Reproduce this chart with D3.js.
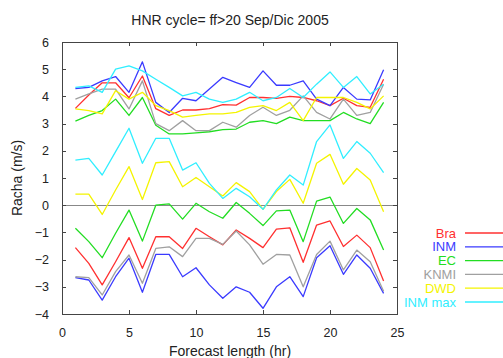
<!DOCTYPE html>
<meta charset="utf-8">
<style>
  body { margin: 0; background: #fff; font-family: 'Liberation Sans', Arial, sans-serif; }
  .axis text { font-size: 12.5px; fill: #222; }
  .axis path, .axis line { stroke: #444; stroke-width: 1; shape-rendering: crispEdges; }
  .lbl { font-size: 14px; fill: #222; }
  .leg { font-size: 13px; }
</style>
<body>
<div id="chart"></div>
<script src="https://d3js.org/d3.v7.min.js"></script>
<script>
// forecast hours
var hours = [1,2,3,4,5,6,7,8,9,10,11,12,13,14,15,16,17,18,19,20,21,22,23,24];

// upper (Hi) and lower (Lo) curves per model, m/s
var braHi  = [3.56,4.05,4.5,4.5,3.95,4.75,3.55,3.3,3.5,3.5,3.55,3.7,3.68,3.96,3.96,3.93,4.0,3.96,3.84,3.66,3.93,3.66,3.6,4.63];
var braLo  = [-1.56,-2.14,-2.93,-2.08,-1.19,-2.32,-1.16,-1.16,-1.59,-0.85,-1.16,-1.46,-0.91,-1.22,-1.56,-0.88,-0.83,-2.1,-0.73,-0.58,-1.52,-1.1,-1.56,-2.79];
var inmHi  = [4.29,4.33,4.57,4.73,4.15,5.27,3.78,3.41,3.93,3.84,4.27,4.7,4.51,4.33,4.94,4.41,4.41,4.57,3.9,3.66,4.33,3.9,3.87,4.98];
var inmLo  = [-2.66,-2.75,-3.49,-2.63,-1.95,-3.2,-1.81,-1.81,-2.63,-2.3,-2.93,-3.42,-3.0,-3.2,-3.79,-3.0,-2.63,-3.36,-1.93,-1.49,-2.54,-1.83,-2.32,-3.24];
var ecHi   = [3.09,3.3,3.48,3.9,3.3,3.96,2.94,2.62,2.62,2.66,2.7,2.78,2.8,3.05,3.11,3.0,3.24,3.11,3.11,3.11,3.41,3.17,3.0,3.78];
var ecLo   = [-0.85,-1.34,-1.93,-1.03,-0.18,-1.32,0.0,0.05,-0.51,0.07,-0.24,-0.48,0.1,-0.3,-0.75,-0.21,-0.18,-1.34,0.15,0.3,-0.67,-0.12,-0.54,-1.65];
var knmiHi = [3.9,4.09,4.27,4.27,3.54,4.57,3.0,2.74,3.11,2.74,2.74,3.05,2.87,3.3,3.6,3.3,3.49,4.02,3.41,3.17,3.9,3.3,3.41,4.45];
var knmiLo = [-2.63,-2.66,-3.3,-2.44,-1.83,-2.87,-1.59,-1.53,-1.89,-1.22,-1.22,-1.44,-0.95,-1.46,-2.17,-1.81,-1.83,-3.0,-1.81,-1.32,-2.38,-1.65,-2.08,-3.16];
var dwdHi  = [3.54,3.48,3.36,4.21,3.9,4.15,3.66,3.48,3.24,3.3,3.36,3.36,3.41,3.6,3.66,3.48,3.78,3.11,3.96,3.96,3.96,3.78,3.54,4.02];
var dwdLo  = [0.41,0.41,-0.34,0.56,1.42,0.21,1.56,1.6,0.68,1.02,0.68,0.34,0.83,0.5,-0.15,0.5,0.95,0.07,1.54,1.87,0.77,1.35,0.93,-0.24];
var maxHi  = [4.33,4.39,4.15,5.0,5.12,4.94,4.63,4.33,4.02,4.15,3.9,3.78,3.9,4.15,3.84,3.96,4.29,3.96,4.45,4.9,4.33,4.73,4.09,4.45];
var maxLo  = [1.66,1.72,1.11,1.97,2.83,1.54,2.46,2.46,1.29,1.56,0.8,0.25,0.62,0.31,-0.15,0.56,1.11,0.74,2.34,2.95,1.72,2.34,1.91,1.2];

var names  = ["Bra", "INM", "EC", "KNMI", "DWD", "INM max"];
var colors = ["#ff3030", "#3a3aff", "#22dd22", "#a0a0a0", "#f4f400", "#30eeff"];
var xTicks = [0, 5, 10, 15, 20, 25];
var yTicks = [-4, -3, -2, -1, 0, 1, 2, 3, 4, 5, 6];

var series = [
  { name: "Bra", hi: braHi, lo: braLo },
  { name: "INM", hi: inmHi, lo: inmLo },
  { name: "EC", hi: ecHi, lo: ecLo },
  { name: "KNMI", hi: knmiHi, lo: knmiLo },
  { name: "DWD", hi: dwdHi, lo: dwdLo },
  { name: "INM max", hi: maxHi, lo: maxLo }
];

var width = 503, height = 358;
var margin = { top: 42, right: 106, bottom: 44, left: 62 };
var w = width - margin.left - margin.right,
    h = height - margin.top - margin.bottom;

var svg = d3.select("#chart").append("svg")
  .attr("width", width)
  .attr("height", height);

var g = svg.append("g")
  .attr("transform", `translate(${margin.left},${margin.top})`);

var x = d3.scaleLinear().domain([0, 25]).range([0, w]);
var y = d3.scaleLinear().domain([-4, 6]).range([h, 0]);

// zero line
g.append("line")
  .attr("x1", 0).attr("x2", w)
  .attr("y1", y(0)).attr("y2", y(0))
  .attr("stroke", "#888").attr("stroke-width", 1)
  .style("shape-rendering", "crispEdges");

var line = d3.line()
  .x((d, i) => x(hours[i]))
  .y(d => y(d));

series.forEach((s, k) => {
  [s.hi, s.lo].forEach(vals => {
    g.append("path")
      .datum(vals)
      .attr("fill", "none")
      .attr("stroke", colors[k])
      .attr("stroke-width", 1.3)
      .attr("stroke-linejoin", "round")
      .attr("d", line);
  });
});

// box axes, ticks pointing inward
g.append("g").attr("class", "axis")
  .attr("transform", `translate(0,${h})`)
  .call(d3.axisBottom(x).tickValues(xTicks).tickSizeInner(-4).tickSizeOuter(0).tickPadding(14));
g.append("g").attr("class", "axis")
  .call(d3.axisTop(x).tickValues(xTicks).tickSizeInner(-4).tickSizeOuter(0).tickFormat(""));
g.append("g").attr("class", "axis")
  .call(d3.axisLeft(y).tickValues(yTicks).tickSizeInner(-4).tickSizeOuter(0).tickPadding(13));
g.append("g").attr("class", "axis")
  .attr("transform", `translate(${w},0)`)
  .call(d3.axisRight(y).tickValues(yTicks).tickSizeInner(-4).tickSizeOuter(0).tickFormat(""));

// title
svg.append("text")
  .attr("class", "lbl")
  .attr("x", 230).attr("y", 25)
  .attr("text-anchor", "middle")
  .text("HNR cycle= ff>20 Sep/Dic 2005");

// axis labels
svg.append("text")
  .attr("class", "lbl")
  .attr("x", 230).attr("y", 356)
  .attr("text-anchor", "middle")
  .text("Forecast length (hr)");

svg.append("text")
  .attr("class", "lbl")
  .attr("transform", "translate(22,178) rotate(-90)")
  .attr("text-anchor", "middle")
  .text("Racha (m/s)");

// legend
names.forEach((n, k) => {
  var ly = 233 + k * 13.8;
  svg.append("text")
    .attr("class", "leg")
    .attr("x", 456).attr("y", ly)
    .attr("dy", "0.35em")
    .attr("text-anchor", "end")
    .attr("fill", colors[k])
    .text(n);
  svg.append("line")
    .attr("x1", 465).attr("x2", 503)
    .attr("y1", ly).attr("y2", ly)
    .attr("stroke", colors[k]).attr("stroke-width", 1.3);
});
</script>
</body>
